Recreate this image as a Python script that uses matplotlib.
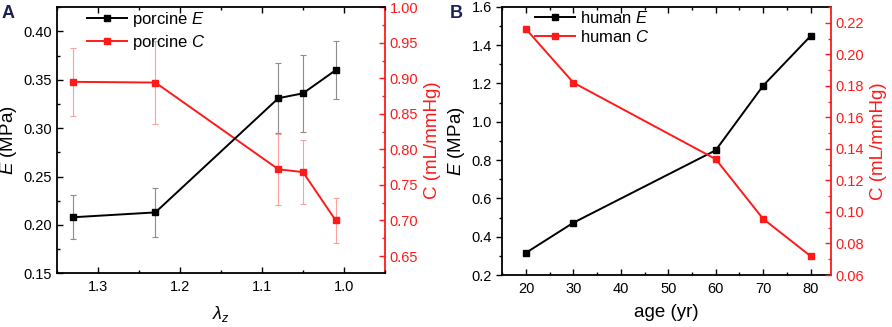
import matplotlib
matplotlib.use("Agg")
import matplotlib.pyplot as plt
from matplotlib.ticker import MultipleLocator, FormatStrFormatter

plt.rcParams['font.family'] = ['Liberation Sans', 'DejaVu Sans']
plt.rcParams['mathtext.fontset'] = 'custom'
plt.rcParams['mathtext.rm'] = 'Liberation Sans'
plt.rcParams['mathtext.it'] = 'Liberation Sans:italic'
plt.rcParams['mathtext.bf'] = 'Liberation Sans:bold'

# Panel A data (porcine)
lambda_z = [1.33, 1.23, 1.08, 1.05, 1.01]
porcine_E = [0.208, 0.213, 0.331, 0.336, 0.360]
porcine_E_err = [0.023, 0.025, 0.036, 0.040, 0.030]
porcine_C = [0.895, 0.894, 0.772, 0.768, 0.700]
porcine_C_err = [0.048, 0.058, 0.050, 0.045, 0.031]

# Panel B data (human)
age = [20, 30, 60, 70, 80]
human_E = [0.316, 0.473, 0.851, 1.188, 1.447]
human_C = [0.216, 0.182, 0.1335, 0.0956, 0.072]

RED = '#ff1a1a'
NAVY = '#1c2157'

fig = plt.figure(figsize=(8.92, 3.27), dpi=100)
axA = fig.add_axes([0.0639, 0.164, 0.3677, 0.814])
axB = fig.add_axes([0.5631, 0.159, 0.3685, 0.8205])

def style(ax, ax2):
    for s in ['left', 'bottom', 'top']:
        ax.spines[s].set_linewidth(1.3)
        ax.spines[s].set_color('black')
    ax2.spines['right'].set_color(RED)
    ax2.spines['right'].set_linewidth(1.3)
    for s in ['left', 'bottom', 'top']:
        ax2.spines[s].set_visible(False)
    ax.spines['right'].set_visible(False)
    ax.tick_params(axis='x', which='both', direction='in', top=True, labelsize=10.5, pad=5)
    ax.tick_params(axis='x', which='major', length=4, width=1)
    ax.tick_params(axis='x', which='minor', length=2.5, width=1)
    ax.tick_params(axis='y', which='major', length=4, width=1, labelsize=10.5)
    ax.tick_params(axis='y', which='minor', length=2.5, width=1)
    ax2.tick_params(axis='y', which='both', direction='in', colors=RED, labelsize=10.5, width=1)
    ax2.tick_params(axis='y', which='major', length=4)
    ax2.tick_params(axis='y', which='minor', length=2.5)

# ---------- Panel A ----------
axA2 = axA.twinx()
lE = axA.errorbar(lambda_z, porcine_E, yerr=porcine_E_err, color='black', lw=1.4,
                  marker='s', ms=4.5, ecolor='#8c8c8c', elinewidth=0.8, capsize=2.5,
                  capthick=0.8)
lC = axA2.errorbar(lambda_z, porcine_C, yerr=porcine_C_err, color=RED, lw=1.4,
                   marker='s', ms=4.5, ecolor='#ffa0a0', elinewidth=0.8, capsize=2.5,
                   capthick=0.8)
axA.set_xlim(1.35, 0.95)
axA.set_ylim(0.15, 0.425)
axA2.set_ylim(0.6256, 1.0)
axA.xaxis.set_major_locator(MultipleLocator(0.1))
axA.xaxis.set_minor_locator(MultipleLocator(0.05))
axA.yaxis.set_major_locator(MultipleLocator(0.05))
axA.yaxis.set_minor_locator(MultipleLocator(0.025))
axA2.yaxis.set_major_locator(MultipleLocator(0.05))
axA2.yaxis.set_minor_locator(MultipleLocator(0.025))
axA.yaxis.set_major_formatter(FormatStrFormatter('%.2f'))
axA2.yaxis.set_major_formatter(FormatStrFormatter('%.2f'))
axA.xaxis.set_major_formatter(FormatStrFormatter('%.1f'))
style(axA, axA2)
axA.tick_params(axis='y', which='both', direction='in')
axA.set_xlabel('$\\lambda_z$', fontsize=13, labelpad=7)
axA.set_ylabel('$E$ (MPa)', fontsize=13.5, labelpad=3)
axA2.set_ylabel('C (mL/mmHg)', fontsize=13.5, color=RED, labelpad=4)
axA2.legend([lE[0], lC[0]], ['porcine $E$', 'porcine $C$'], loc='upper left',
            bbox_to_anchor=(0.045, 1.045), frameon=False, fontsize=12,
            handlelength=2.4, handletextpad=0.3, labelspacing=0.2)
axA.set_zorder(axA2.get_zorder() + 1)
axA.patch.set_visible(False)

# ---------- Panel B ----------
axB2 = axB.twinx()
hE, = axB.plot(age, human_E, color='black', lw=1.4, marker='s', ms=4.5)
hC, = axB2.plot(age, human_C, color=RED, lw=1.4, marker='s', ms=4.5)
axB.set_xlim(15, 84.3)
axB.set_ylim(0.2, 1.6)
axB2.set_ylim(0.06, 0.2302)
axB.xaxis.set_major_locator(MultipleLocator(10))
axB.xaxis.set_minor_locator(MultipleLocator(5))
axB.yaxis.set_major_locator(MultipleLocator(0.2))
axB.yaxis.set_minor_locator(MultipleLocator(0.1))
axB2.yaxis.set_major_locator(MultipleLocator(0.02))
axB2.yaxis.set_minor_locator(MultipleLocator(0.01))
axB.yaxis.set_major_formatter(FormatStrFormatter('%.1f'))
axB2.yaxis.set_major_formatter(FormatStrFormatter('%.2f'))
style(axB, axB2)
axB.tick_params(axis='y', which='both', direction='out')
axB.set_xlabel('age (yr)', fontsize=13.5, labelpad=6)
axB.set_ylabel('$E$ (MPa)', fontsize=13.5, labelpad=3)
axB2.set_ylabel('C (mL/mmHg)', fontsize=13.5, color=RED, labelpad=4)
axB2.legend([hE, hC], ['human $E$', 'human $C$'], loc='upper left',
            bbox_to_anchor=(0.055, 1.045), frameon=False, fontsize=12,
            handlelength=2.4, handletextpad=0.3, labelspacing=0.2)

fig.text(0.002, 0.985, 'A', fontsize=13, fontweight='bold', color=NAVY, va='top', ha='left')
fig.text(0.5045, 0.985, 'B', fontsize=13, fontweight='bold', color=NAVY, va='top', ha='left')

fig.savefig('out.png', dpi=100)
